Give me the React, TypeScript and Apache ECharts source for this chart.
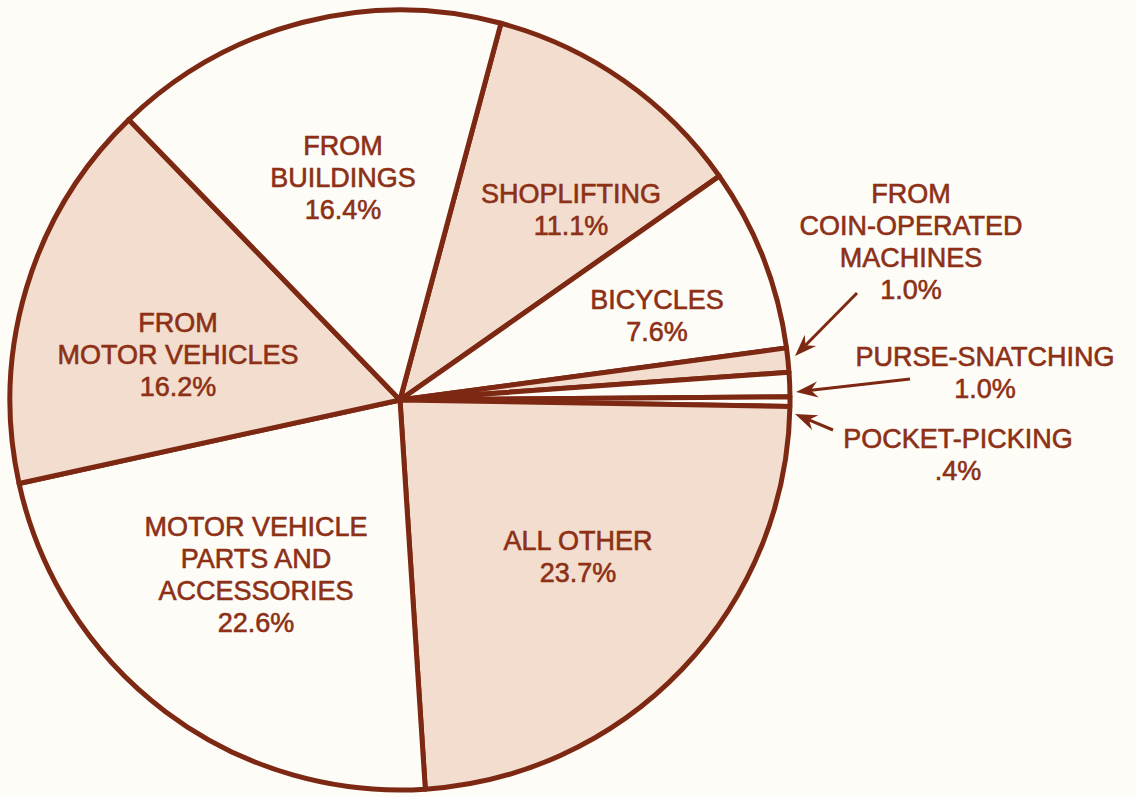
import React, { useEffect, useRef } from "react";
import * as echarts from "echarts";

// ---- Data ----
const categories = [
  "SHOPLIFTING",
  "BICYCLES",
  "FROM\nCOIN-OPERATED\nMACHINES",
  "PURSE-SNATCHING",
  "POCKET-PICKING",
  "ALL OTHER",
  "MOTOR VEHICLE\nPARTS AND\nACCESSORIES",
  "FROM\nMOTOR VEHICLES",
  "FROM\nBUILDINGS",
];
const values = [11.1, 7.6, 1.0, 1.0, 0.4, 23.7, 22.6, 16.2, 16.4];
const shaded = [true, false, true, false, false, true, false, true, false];

// ---- Layout (label anchor centres, annotation arrows) ----
const labelCenters: number[][] = [
  [571, 210],
  [657, 316],
  [911, 242],
  [985, 373],
  [958, 455],
  [578, 557],
  [256, 575],
  [178, 355],
  [343, 178],
];
const arrows = [
  { from: [857, 293], to: [795, 356] },
  { from: [910, 379], to: [796, 392] },
  { from: [833, 430], to: [795, 414] },
];

const BROWN = "#7d2812";
const TEXT = "#8c3016";
const BEIGE = "#f3ddcf";
const BG = "#fefcf7";

function fmt(v: number): string {
  let s = v.toFixed(1);
  if (s.startsWith("0.")) s = s.slice(1);
  return s + "%";
}

function arrowGraphics() {
  const els: any[] = [];
  arrows.forEach((a) => {
    const [tx, ty] = a.from;
    const [px, py] = a.to;
    const len = Math.hypot(px - tx, py - ty);
    const dx = (px - tx) / len;
    const dy = (py - ty) / len;
    const nx = -dy;
    const ny = dx;
    const L = 22;
    const W = 8;
    const N = 15;
    els.push({
      type: "line",
      shape: { x1: tx, y1: ty, x2: px - N * dx, y2: py - N * dy },
      style: { stroke: BROWN, lineWidth: 3 },
      silent: true,
    });
    els.push({
      type: "polygon",
      shape: {
        points: [
          [px, py],
          [px - L * dx + W * nx, py - L * dy + W * ny],
          [px - N * dx, py - N * dy],
          [px - L * dx - W * nx, py - L * dy - W * ny],
        ],
      },
      style: { fill: BROWN },
      silent: true,
    });
  });
  return els;
}

export default function App() {
  const ref = useRef<HTMLDivElement>(null);

  useEffect(() => {
    if (!ref.current) return;
    const chart = echarts.init(ref.current, undefined, { renderer: "svg" });
    const data = categories.map((name, i) => ({
      name,
      value: values[i],
      itemStyle: { color: shaded[i] ? BEIGE : BG },
    }));
    chart.setOption({
      animation: false,
      backgroundColor: BG,
      graphic: arrowGraphics(),
      series: [
        {
          type: "pie",
          center: [400, 400],
          radius: 390,
          startAngle: 75,
          clockwise: true,
          silent: true,
          avoidLabelOverlap: false,
          emphasis: { disabled: true },
          itemStyle: { borderColor: BROWN, borderWidth: 5 },
          labelLine: { show: false },
          label: {
            show: true,
            position: "inside",
            color: TEXT,
            fontSize: 27,
            lineHeight: 32,
            textBorderColor: TEXT,
            textBorderWidth: 0.6,
            fontFamily: "'Liberation Sans', Arial, Helvetica, sans-serif",
            align: "center",
            formatter: (p: any) => `${p.name}\n${fmt(p.value)}`,
          },
          labelLayout: (p: any) => {
            const c = labelCenters[p.dataIndex];
            return { x: c[0], y: c[1], align: "center", verticalAlign: "middle" };
          },
          data,
        },
      ],
    });
    return () => chart.dispose();
  }, []);

  return (
    <div
      ref={ref}
      style={{ position: "fixed", left: 0, top: 0, width: 1136, height: 797, background: BG }}
    />
  );
}
